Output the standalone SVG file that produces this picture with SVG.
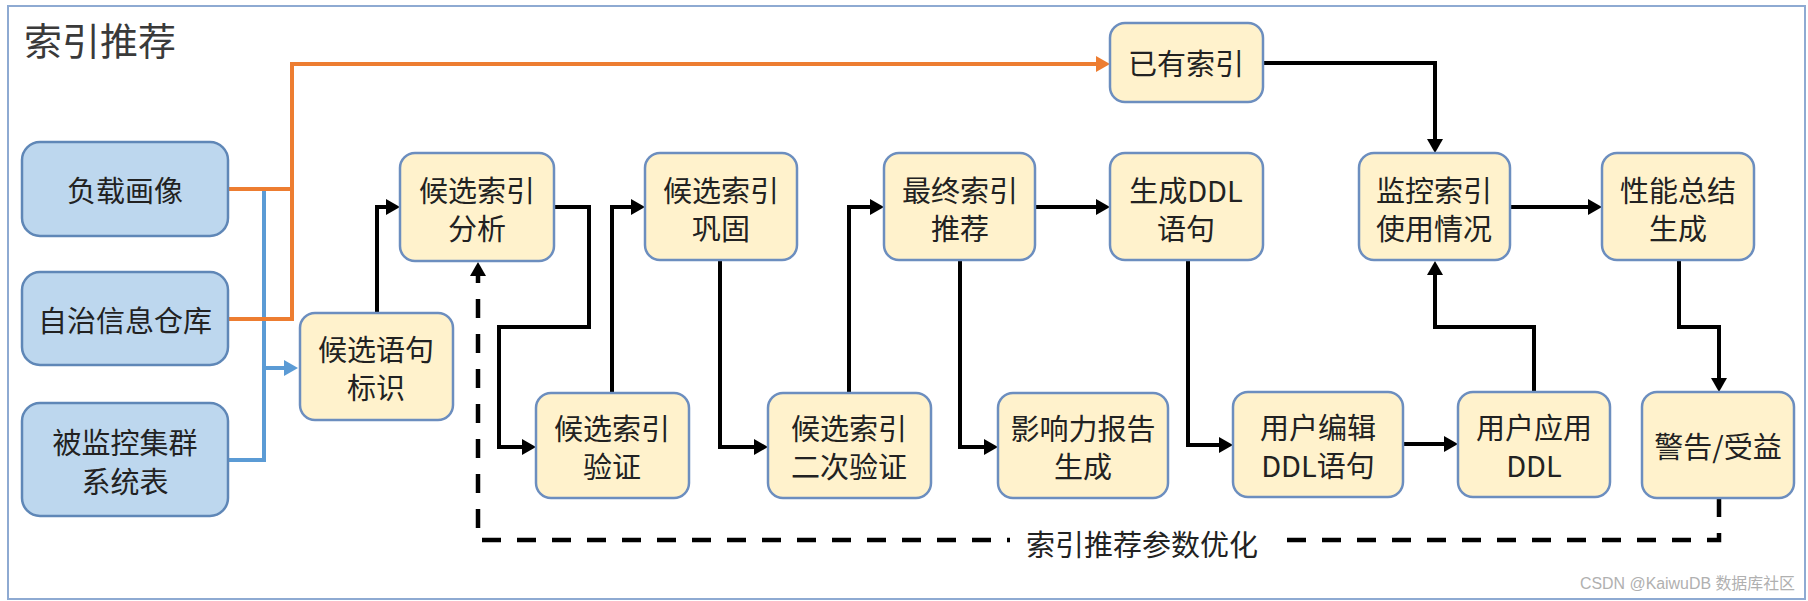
<svg xmlns="http://www.w3.org/2000/svg" width="1808" height="601" viewBox="0 0 1808 601">
<style>
.frame{fill:#ffffff;stroke:#8eaad2;stroke-width:2}
.yb{fill:#fff2cc;stroke:#6c8ebf;stroke-width:2.5}
.bb{fill:#bdd7ee;stroke:#5f87b7;stroke-width:2.5}
.t{font-family:"Noto Sans CJK SC","Noto Sans",sans-serif;font-size:29px;fill:#222222;text-anchor:middle;dominant-baseline:central}
.title{font-family:"Noto Sans CJK SC","Noto Sans",sans-serif;font-size:38px;fill:#3a3a3a}
.k{fill:none;stroke:#000000;stroke-width:4;stroke-linejoin:miter}
.o{fill:none;stroke:#ed7d31;stroke-width:4}
.b{fill:none;stroke:#5b9bd5;stroke-width:4}
.d{fill:none;stroke:#000000;stroke-width:4.5;stroke-dasharray:19 16}
.wm{font-family:"Liberation Sans","Noto Sans CJK SC",sans-serif;font-size:16px;fill:#b0b0b0}
</style>
<defs>
<marker id="ak" viewBox="0 0 14 16" refX="8" refY="8" markerWidth="14" markerHeight="16" markerUnits="userSpaceOnUse" orient="auto"><path d="M0,0 L14,8 L0,16 z" fill="#000000"/></marker>
<marker id="ao" viewBox="0 0 14 16" refX="8" refY="8" markerWidth="14" markerHeight="16" markerUnits="userSpaceOnUse" orient="auto"><path d="M0,0 L14,8 L0,16 z" fill="#ed7d31"/></marker>
<marker id="ab" viewBox="0 0 14 16" refX="8" refY="8" markerWidth="14" markerHeight="16" markerUnits="userSpaceOnUse" orient="auto"><path d="M0,0 L14,8 L0,16 z" fill="#5b9bd5"/></marker>
</defs>
<rect class="frame" x="8" y="6" width="1797" height="593"/>
<text class="title" x="24" y="55">索引推荐</text>

<g id="connectors">
<path class="b" d="M264,190 V460 H228"/>
<path class="b" d="M264,368 H292" marker-end="url(#ab)"/>
<path class="o" d="M228,189 H292"/>
<path class="o" d="M228,319 H292 V64 H1104" marker-end="url(#ao)"/>
<path class="k" d="M377,313 V207 H394" marker-end="url(#ak)"/>
<path class="k" d="M554,207 H589 V327 H499 V447 H530" marker-end="url(#ak)"/>
<path class="k" d="M612,393 V207 H639" marker-end="url(#ak)"/>
<path class="k" d="M720,260 V447 H762" marker-end="url(#ak)"/>
<path class="k" d="M849,393 V207 H878" marker-end="url(#ak)"/>
<path class="k" d="M1035,207 H1104" marker-end="url(#ak)"/>
<path class="k" d="M960,260 V447 H992" marker-end="url(#ak)"/>
<path class="k" d="M1263,63 H1435 V147" marker-end="url(#ak)"/>
<path class="k" d="M1510,207 H1596" marker-end="url(#ak)"/>
<path class="k" d="M1188,260 V445 H1227" marker-end="url(#ak)"/>
<path class="k" d="M1403,444 H1452" marker-end="url(#ak)"/>
<path class="k" d="M1534,392 V327 H1435 V267" marker-end="url(#ak)"/>
<path class="k" d="M1679,260 V327 H1719 V386" marker-end="url(#ak)"/>
<path class="d" d="M1719,498 V540 H478 V268" marker-end="url(#ak)"/>
<rect x="1010" y="522" width="268" height="40" fill="#ffffff"/>
<text class="t" x="1142" y="543">索引推荐参数优化</text>
</g>

<g id="n-load"><rect class="bb" x="22" y="142" width="206" height="94" rx="18"/><text class="t" x="125" y="189">负载画像</text></g>
<g id="n-repo"><rect class="bb" x="22" y="272" width="206" height="93" rx="18"/><text class="t" x="125" y="319">自治信息仓库</text></g>
<g id="n-systab"><rect class="bb" x="22" y="403" width="206" height="113" rx="18"/><text class="t" x="125" y="441">被监控集群</text><text class="t" x="125" y="480">系统表</text></g>

<g id="n-stmt"><rect class="yb" x="300" y="313" width="153" height="107" rx="15"/><text class="t" x="376" y="348">候选语句</text><text class="t" x="376" y="386">标识</text></g>
<g id="n-analyze"><rect class="yb" x="400" y="153" width="154" height="108" rx="15"/><text class="t" x="477" y="189">候选索引</text><text class="t" x="477" y="227">分析</text></g>
<g id="n-verify"><rect class="yb" x="536" y="393" width="153" height="105" rx="15"/><text class="t" x="612" y="427">候选索引</text><text class="t" x="612" y="465">验证</text></g>
<g id="n-consolidate"><rect class="yb" x="645" y="153" width="152" height="107" rx="15"/><text class="t" x="721" y="189">候选索引</text><text class="t" x="721" y="227">巩固</text></g>
<g id="n-verify2"><rect class="yb" x="768" y="393" width="163" height="105" rx="15"/><text class="t" x="849" y="427">候选索引</text><text class="t" x="849" y="465">二次验证</text></g>
<g id="n-final"><rect class="yb" x="884" y="153" width="151" height="107" rx="15"/><text class="t" x="960" y="189">最终索引</text><text class="t" x="960" y="227">推荐</text></g>
<g id="n-impact"><rect class="yb" x="998" y="393" width="170" height="105" rx="15"/><text class="t" x="1083" y="427">影响力报告</text><text class="t" x="1083" y="465">生成</text></g>
<g id="n-existing"><rect class="yb" x="1110" y="23" width="153" height="79" rx="15"/><text class="t" x="1186" y="62">已有索引</text></g>
<g id="n-ddl"><rect class="yb" x="1110" y="153" width="153" height="107" rx="15"/><text class="t" x="1186" y="189">生成DDL</text><text class="t" x="1186" y="227">语句</text></g>
<g id="n-edit"><rect class="yb" x="1233" y="392" width="170" height="105" rx="15"/><text class="t" x="1318" y="426">用户编辑</text><text class="t" x="1318" y="464">DDL语句</text></g>
<g id="n-monitor"><rect class="yb" x="1359" y="153" width="151" height="107" rx="15"/><text class="t" x="1434" y="189">监控索引</text><text class="t" x="1434" y="227">使用情况</text></g>
<g id="n-apply"><rect class="yb" x="1458" y="392" width="152" height="105" rx="15"/><text class="t" x="1534" y="426">用户应用</text><text class="t" x="1534" y="464">DDL</text></g>
<g id="n-perf"><rect class="yb" x="1602" y="153" width="152" height="107" rx="15"/><text class="t" x="1678" y="189">性能总结</text><text class="t" x="1678" y="227">生成</text></g>
<g id="n-alert"><rect class="yb" x="1642" y="392" width="152" height="106" rx="15"/><text class="t" x="1718" y="445">警告/受益</text></g>

<text class="wm" x="1580" y="589" textLength="215" lengthAdjust="spacingAndGlyphs">CSDN @KaiwuDB 数据库社区</text>
</svg>
